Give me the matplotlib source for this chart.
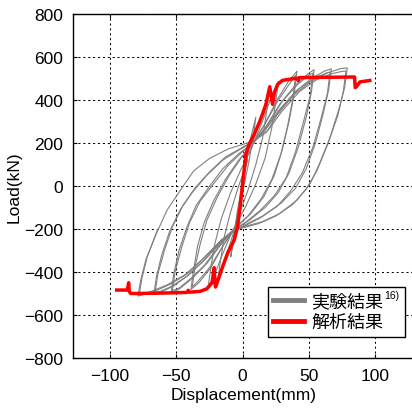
import matplotlib
matplotlib.use('Agg')
import matplotlib.pyplot as plt
from matplotlib.lines import Line2D

plt.rcParams['font.family'] = ['Liberation Sans', 'Noto Sans CJK JP']

# analysis result (red line)
ana_disp = [-95, -87, -86, -85.5, -84.5, -80, -60, -42, -41, -40, -32, -27, -23, -21.5, -20.5,
            -19.5, -15, -11.3, -6.3, -3.8, -1.3, 0, 2.5, 5, 8.8, 12.6, 15, 17.6, 20.5, 22.6,
            24, 26.4, 30, 39, 41.5, 42, 42.5, 50, 70, 83.5, 84.5, 85, 86, 88.5, 96]
ana_load = [-484, -484, -450, -490, -500, -500, -498, -495, -485, -494, -490, -478, -450, -380, -470,
            -455, -374, -312, -251, -189, -66, 11, 149, 195, 241, 295, 334, 380, 462, 380,
            434, 472, 491, 500, 500, 490, 504, 505, 506, 507, 507, 458, 462, 484, 491]

# experiment (gray), one cycle per pair of lists
c10_d = [0, 3, 6, 10, 8, 5, 1, -3, -6, -9, -7, -4, 0, 4]
c10_p = [0, 110, 220, 320, 230, 120, 0, -120, -230, -330, -240, -120, 20, 150]

c20_d = [5, 10, 16, 20, 18, 15, 10, 4, -3, -9, -15, -19, -17, -14, -9, -3, 4]
c20_p = [150, 250, 360, 440, 340, 220, 100, -20, -140, -260, -370, -450, -360, -240, -120, 0, 120]

c27_d = [7, 15, 22, 27, 25, 22, 17, 10, 2, -7, -14, -21, -26, -24, -21, -16, -9, -1, 7]
c27_p = [180, 300, 420, 488, 390, 270, 130, 10, -100, -200, -300, -410, -470, -380, -270, -150, -30, 80, 180]

c41a_d = [7, 16, 26, 35, 41, 39, 35, 30, 24, 16, 6, -5, -14, -24, -33, -39, -37, -34, -29, -22, -13, -3, 7]
c41a_p = [190, 280, 400, 490, 534, 430, 300, 170, 50, -50, -130, -190, -270, -380, -450, -481, -390, -280, -170, -70, 30, 120, 190]
c41b_d = [8, 17, 27, 36, 40, 38, 34, 29, 22, 14, 4, -6, -15, -25, -34, -38, -36, -32, -27, -19, -10, 0, 8]
c41b_p = [200, 290, 400, 480, 515, 410, 280, 150, 30, -60, -140, -200, -280, -380, -445, -470, -380, -270, -160, -50, 50, 140, 200]

c54a_d = [8, 17, 28, 40, 50, 54, 52, 48, 42, 35, 27, 17, 5, -6, -16, -27, -38, -48, -54, -52, -48, -42, -35, -26, -15, -3, 8]
c54a_p = [200, 270, 380, 470, 525, 541, 440, 320, 180, 60, -30, -100, -160, -200, -270, -360, -430, -480, -497, -410, -300, -190, -90, -10, 80, 150, 200]
c54b_d = [9, 19, 30, 42, 50, 53, 51, 46, 40, 33, 24, 13, 2, -7, -18, -29, -40, -48, -53, -51, -46, -40, -32, -22, -11, 0, 9]
c54b_p = [205, 285, 395, 475, 515, 525, 420, 300, 160, 40, -45, -115, -170, -205, -280, -370, -435, -475, -487, -400, -285, -170, -70, 10, 95, 160, 205]

c67a_d = [8, 17, 27, 40, 52, 62, 67, 65, 61, 55, 48, 40, 29, 15, 2, -6, -16, -28, -40, -52, -62, -67, -65, -61, -55, -47, -38, -27, -15, -2, 8]
c67a_p = [205, 260, 350, 440, 500, 535, 545, 450, 340, 200, 80, -10, -80, -140, -180, -205, -260, -340, -410, -465, -495, -505, -420, -320, -210, -110, -30, 50, 120, 170, 205]
c67b_d = [9, 18, 29, 42, 54, 63, 66, 64, 59, 53, 45, 36, 26, 13, 0, -8, -18, -30, -42, -54, -62, -66, -64, -59, -53, -45, -36, -25, -13, 0, 9]
c67b_p = [210, 270, 360, 450, 500, 525, 530, 430, 310, 180, 60, -25, -95, -150, -190, -210, -270, -350, -420, -468, -490, -495, -410, -300, -190, -90, -10, 65, 135, 180, 210]

c79a_d = [9, 18, 26, 39, 52, 64, 74, 79, 77, 73, 66, 58, 51, 41, 28, 15, 1, -6, -16, -29, -41, -54, -67, -77, -79, -77, -73, -65, -57, -47, -37, -25, -11, 1, 9]
c79a_p = [212, 250, 330, 426, 488, 526, 546, 549, 457, 364, 226, 103, 11, -66, -128, -166, -189, -205, -250, -333, -405, -455, -492, -509, -512, -440, -343, -220, -112, -20, 70, 128, 172, 195, 212]
c79b_d = [10, 20, 30, 43, 56, 67, 75, 78, 76, 72, 64, 56, 48, 38, 25, 12, 0, -8, -18, -31, -44, -57, -69, -76, -78, -76, -72, -64]
c79b_p = [215, 265, 350, 440, 495, 522, 533, 535, 440, 330, 190, 70, -15, -85, -140, -175, -195, -210, -265, -345, -415, -460, -490, -502, -505, -430, -330, -200]

exp_cycles = [(c10_d, c10_p), (c20_d, c20_p), (c27_d, c27_p),
              (c41a_d, c41a_p), (c41b_d, c41b_p), (c54a_d, c54a_p), (c54b_d, c54b_p),
              (c67a_d, c67a_p), (c67b_d, c67b_p), (c79a_d, c79a_p), (c79b_d, c79b_p)]

fig = plt.figure(figsize=(4.12, 4.10), dpi=100)
ax = fig.add_axes([73 / 412, 51 / 410, 258 * 1.325 / 412, 344 / 410])

for d, p in exp_cycles:
    ax.plot(d, p, color='#808080', lw=0.8)
ax.plot(ana_disp, ana_load, color='red', lw=2.5)

ax.set_xlim(-128, 130)
ax.set_ylim(-800, 800)
ax.set_xticks([-100, -50, 0, 50, 100])
ax.set_yticks(range(-800, 801, 200))
ax.tick_params(direction='in', top=True, right=True, length=3, labelsize=12.5, pad=7)
ax.grid(True, color='black', linestyle=(0, (2, 2.7)), linewidth=0.75)
for s in ax.spines.values():
    s.set_linewidth(1.0)

ax.set_xlabel('Displacement(mm)', fontsize=12.5, labelpad=3)
ax.set_ylabel('Load(kN)', fontsize=12.5, labelpad=2)

# legend box stretched to the reference width, leaving room for the superscript
handles = [Line2D([], [], color='#808080', lw=3.5), Line2D([], [], color='red', lw=3.5)]
leg = ax.legend(handles, ['実験結果', '解析結果'],
                loc='upper left', bbox_to_anchor=(0.570, 0.0, 0.401, 0.206), mode='expand',
                borderaxespad=0, prop={'family': 'Noto Sans CJK JP', 'size': 13},
                fancybox=False, edgecolor='black', framealpha=1,
                handlelength=1.7, handletextpad=0.4, borderpad=0.3, labelspacing=0.15)
leg.get_frame().set_linewidth(1.0)

# reference number "16)" next to the first label
fig.canvas.draw()
bb = leg.get_texts()[0].get_window_extent()
fig.text((bb.x1 + 1) / fig.bbox.width, (bb.y1 + 3) / fig.bbox.height, '16)',
         ha='left', va='top', fontsize=7.5)

fig.savefig('out.png', dpi=100)
